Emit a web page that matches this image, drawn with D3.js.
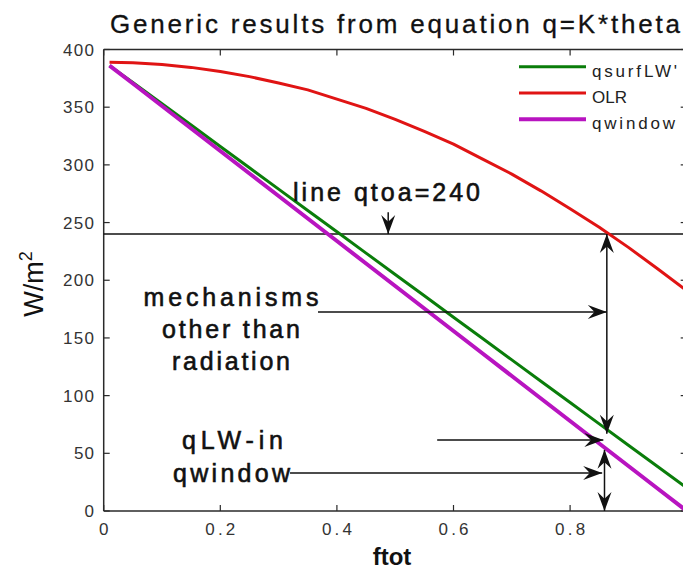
<!DOCTYPE html>
<html><head><meta charset="utf-8">
<script src="https://cdn.jsdelivr.net/npm/d3@7"></script>
<style>
html,body{margin:0;padding:0;background:#fff;overflow:hidden}
svg{display:block;font-family:"Liberation Sans",Arial,sans-serif}
</style></head>
<body><svg id="c" width="683" height="571"></svg>
<script>
// ---- data ----
const ftot     = [0.01,0.05,0.10,0.15,0.20,0.25,0.30,0.35,0.40,0.45,0.50,0.55,0.60,0.65,0.70,0.75,0.80,0.85,0.90,0.95,1.00];
const qsurfLW  = [386,371.5,353,334.5,316,297.5,279,260.5,242,223.5,205,186.5,168,149.5,131,112.5,94,75.5,57,38.5,20];
const OLR      = [389,388.5,387,384.5,381,376.5,371,365,357,349,339.5,329,318,305,292,277.5,262,246,228.5,210,191];
const qwindow  = [386,370.5,351,331.5,312,292.5,273,253.5,234,214.5,195,175.5,156,136.5,117,97.5,78,58.5,39,19.5,0];
const seriesNames = ["qsurfLW'","OLR","qwindow"];
const seriesColors = ["#0a7d0a","#e01414","#b814c0"];
const yTicks = [0,50,100,150,200,250,300,350,400];
const xTicks = [0,0.2,0.4,0.6,0.8,1];
const xTickLabels = ["0","0.2","0.4","0.6","0.8","1"];
const qtoa = 240;
const titleText = "Generic results from equation q=K*theta";
const xLabel = "ftot";
const annotLines = ["mechanisms","other than","radiation"];
const qtoaLabel = "line qtoa=240";

const svg = d3.select("#c");
const x = d3.scaleLinear().domain([0,1]).range([103.7,686.7]);
const y = d3.scaleLinear().domain([0,400]).range([511,49.5]);
const axisCol = "#2a2a2a";
const W = 683;

function heavy(sel, w){ return sel.attr("stroke","#111").attr("stroke-width",w).attr("paint-order","stroke"); }

// title
heavy(svg.append("text").attr("x",110).attr("y",33).attr("font-size",26).attr("fill","#111")
  .attr("textLength",570).attr("lengthAdjust","spacing").text(titleText),0.3);

// frame
const g = svg.append("g");
g.append("line").attr("x1",x(0)).attr("x2",x(1)).attr("y1",y(400)).attr("y2",y(400)).attr("stroke",axisCol).attr("stroke-width",1.5);
g.append("line").attr("x1",x(0)).attr("x2",x(1)).attr("y1",y(0)).attr("y2",y(0)).attr("stroke",axisCol).attr("stroke-width",1.5);
g.append("line").attr("x1",x(0)).attr("x2",x(0)).attr("y1",y(0)).attr("y2",y(400)).attr("stroke",axisCol).attr("stroke-width",1.5);
g.append("line").attr("x1",x(1)).attr("x2",x(1)).attr("y1",y(0)).attr("y2",y(400)).attr("stroke",axisCol).attr("stroke-width",1.5);

// y ticks (inward, both sides)
yTicks.forEach(v=>{
  g.append("line").attr("x1",x(0)).attr("x2",x(0)+6).attr("y1",y(v)).attr("y2",y(v)).attr("stroke",axisCol).attr("stroke-width",1.2);
  g.append("line").attr("x1",x(1)-6).attr("x2",x(1)).attr("y1",y(v)).attr("y2",y(v)).attr("stroke",axisCol).attr("stroke-width",1.2);
  const s = String(v);
  g.append("text").attr("x",94).attr("y",y(v)+6).attr("text-anchor","end").attr("font-size",17).attr("fill","#333")
    .attr("textLength",s.length*11-2).attr("lengthAdjust","spacing").text(s);
});
// x ticks
xTicks.forEach((v,i)=>{
  g.append("line").attr("x1",x(v)).attr("x2",x(v)).attr("y1",y(0)).attr("y2",y(0)-6).attr("stroke",axisCol).attr("stroke-width",1.2);
  g.append("line").attr("x1",x(v)).attr("x2",x(v)).attr("y1",y(400)).attr("y2",y(400)+6).attr("stroke",axisCol).attr("stroke-width",1.2);
  const s = xTickLabels[i];
  if (x(v) + 10 > W) return; // label falls outside the cropped picture
  g.append("text").attr("x",x(v)).attr("y",535).attr("text-anchor","middle").attr("font-size",17).attr("fill","#333")
    .attr("textLength",s.length===1?9:30).attr("lengthAdjust","spacing").text(s);
});

// axis labels
svg.append("text").attr("x",392).attr("y",565).attr("text-anchor","middle").attr("font-size",24).attr("font-weight","bold").attr("fill","#111").text(xLabel);
const yl = svg.append("text").attr("transform","translate(43,284) rotate(-90)").attr("text-anchor","middle").attr("font-size",27).attr("fill","#111");
yl.append("tspan").text("W/m");
yl.append("tspan").attr("font-size",18).attr("dy",-11).text("2");

// qtoa line
svg.append("line").attr("x1",x(0)).attr("x2",x(1)).attr("y1",y(qtoa)).attr("y2",y(qtoa)).attr("stroke","#111").attr("stroke-width",1.5);

// series
const line = d3.line().x((d,i)=>x(ftot[i])).y(d=>y(d));
const allSeries = [qsurfLW, OLR, qwindow];
const widths = [3,3,4];
allSeries.forEach((s,k)=>{
  svg.append("path").attr("d",line(s)).attr("fill","none").attr("stroke",seriesColors[k]).attr("stroke-width",widths[k]).attr("stroke-linejoin","round");
});

// legend
const legY = [66.7,93,119.3];
const legLen = [85,35,83];
seriesNames.forEach((n,k)=>{
  svg.append("line").attr("x1",519).attr("x2",586).attr("y1",legY[k]).attr("y2",legY[k]).attr("stroke",seriesColors[k]).attr("stroke-width",widths[k]);
  svg.append("text").attr("x",592).attr("y",legY[k]+10).attr("font-size",17).attr("fill","#222")
    .attr("textLength",legLen[k]).attr("lengthAdjust","spacing").text(n);
});

// arrows
function head(px,py,ang){
  const L=19,Wd=14;
  const p=[[0,0],[-L,-Wd/2],[-L*0.65,0],[-L,Wd/2]];
  const c=Math.cos(ang),s=Math.sin(ang);
  const pts=p.map(([a,b])=>[px+a*c-b*s, py+a*s+b*c]);
  svg.append("path").attr("d","M"+pts.map(q=>q.join(",")).join("L")+"Z").attr("fill","#111");
}
function arrow(x1,y1,x2,y2,both){
  svg.append("line").attr("x1",x1).attr("y1",y1).attr("x2",x2).attr("y2",y2).attr("stroke","#111").attr("stroke-width",1.5);
  head(x2,y2,Math.atan2(y2-y1,x2-x1));
  if(both) head(x1,y1,Math.atan2(y1-y2,x1-x2));
}
arrow(x(0.488),y(259),x(0.488),y(qtoa),false);
arrow(x(0.3676),y(172.4),x(0.863),y(172.4),false);
arrow(x(0.572),y(61.5),x(0.857),y(61.5),false);
arrow(x(0.3196),y(33),x(0.855),y(33),false);
arrow(x(0.863),y(qtoa),x(0.863),y(67),true);
arrow(x(0.859),y(53),x(0.859),y(0),true);

// annotation texts
heavy(svg.append("text").attr("x",293).attr("y",201).attr("font-size",25).attr("fill","#111")
  .attr("textLength",187).attr("lengthAdjust","spacing").text(qtoaLabel),0.6);
const annW=[175,138,118];
annotLines.forEach((t,i)=>{
  heavy(svg.append("text").attr("x",231).attr("y",306+32*i).attr("text-anchor","middle").attr("font-size",25).attr("fill","#111")
    .attr("textLength",annW[i]).attr("lengthAdjust","spacing").text(t),0.6);
});
heavy(svg.append("text").attr("x",182).attr("y",449).attr("font-size",25).attr("fill","#111")
  .attr("textLength",101).attr("lengthAdjust","spacing").text("qLW-in"),0.6);
heavy(svg.append("text").attr("x",173).attr("y",482).attr("font-size",25).attr("fill","#111")
  .attr("textLength",117).attr("lengthAdjust","spacing").text("qwindow"),0.6);
</script></body></html>
